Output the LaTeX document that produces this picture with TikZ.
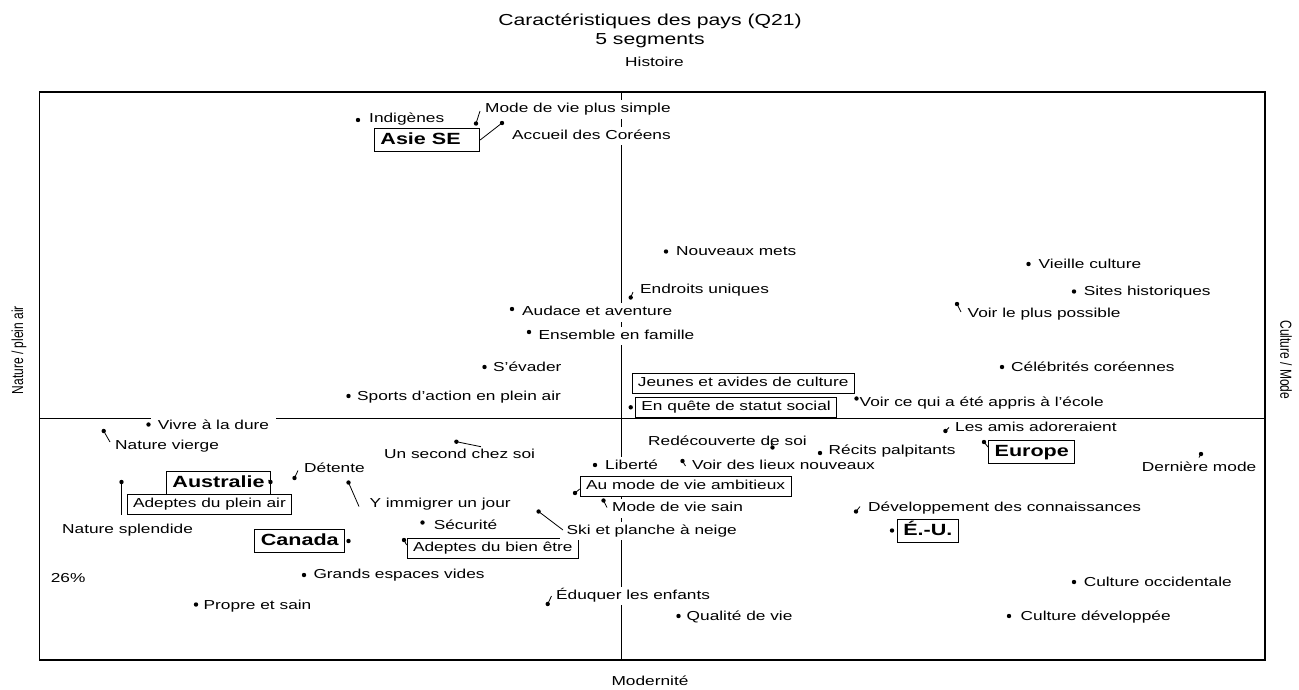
\documentclass[tikz,border=0pt]{standalone}
\usepackage{fontspec}
\setmainfont{Liberation Sans}[FakeStretch=1.33]
\newfontfamily\sidefont{Liberation Sans}
\begin{document}
\begin{tikzpicture}[x=1pt,y=-1pt,
  lbl/.style={anchor=mid west, xshift=-6.5pt, yshift=-2.3pt, fill=white, inner xsep=6.5pt, inner ysep=3pt,
    font=\fontsize{13}{15}\selectfont, text height=9.5pt, text depth=3pt},
  segbox/.style={draw, line width=0.9pt, fill=white, anchor=west, inner xsep=6pt, inner ysep=0pt,
    minimum height=20pt, font=\fontsize{13}{15}\selectfont, text height=9.5pt, text depth=3pt},
  ctybox/.style={draw, line width=0.9pt, fill=white, anchor=west, inner xsep=6pt, inner ysep=0pt,
    minimum height=23.5pt, font=\fontsize{16.2}{18}\selectfont\bfseries, text height=11.8pt, text depth=3.4pt},
  pdot/.style={circle, fill=black, inner sep=0pt, minimum size=4.4pt},
  lead/.style={line width=0.8pt},
  ttl/.style={anchor=mid, font=\fontsize{15.9}{18}\selectfont},
  axl/.style={anchor=mid, font=\fontsize{13}{15}\selectfont},
  side/.style={font=\sidefont\fontsize{12}{14}\selectfont},
]
\useasboundingbox (0,0) rectangle (1299,689);
\fill[white] (0,0) rectangle (1299,689);
% titles
\node[ttl] (t1) at (650,23) {Caractéristiques des pays (Q21)};
\node[ttl] (t2) at (650,41.5) {5 segments};
\node[axl] (top) at (654.5,64) {Histoire};
\node[axl] (bot) at (650,683) {Modernité};
\node[side, rotate=90] (left) at (19,350) {\scalebox{1}[1.33]{Nature / plein air}};
\node[side, rotate=-90] (right) at (1286,360) {\scalebox{1}[1.33]{Culture / Mode}};
% frame and axes
\coordinate (fa) at (39.4,92);
\coordinate (fb) at (1265,660);
\draw[line width=1.6pt] (fa) rectangle (fb);
\coordinate (vt) at (621.2,92); \coordinate (vb) at (621.2,660);
\coordinate (hl) at (39.4,418.3); \coordinate (hr) at (1265,418.3);
\draw[line width=1pt] (vt) -- (vb) (hl) -- (hr);
% country boxes
\node[ctybox] (asie) at (374,140) {Asie SE\hspace*{13pt}};
\node[ctybox] (aus) at (166,483) {Australie};
\node[ctybox] (can) at (254.4,541) {Canada};
\node[ctybox] (eur) at (988.2,452) {Europe};
\node[ctybox] (eu) at (896.9,531) {É.-U.};
% segment boxes
\node[segbox] (jeunes) at (631.5,383.3) {Jeunes et avides de culture};
\node[segbox] (quete) at (635,407) {En quête de statut social};
\node[segbox] (pleinair) at (126.6,504.5) {Adeptes du plein air};
\node[segbox] (ambit) at (579.7,486.4) {Au mode de vie ambitieux};
\node[segbox] (bienetre) at (406.6,548.6) {Adeptes du bien être};
% labels
\node[lbl] (indig) at (369,117.5) {Indigènes};
\node[lbl] (mvps) at (485,108) {Mode de vie plus simple};
\node[lbl] (accueil) at (512,134.5) {Accueil des Coréens};
\node[lbl] (nmets) at (676,251) {Nouveaux mets};
\node[lbl] (vcult) at (1038.5,264) {Vieille culture};
\node[lbl] (endr) at (640,288.5) {Endroits uniques};
\node[lbl] (sites) at (1083.6,291) {Sites historiques};
\node[lbl] (audace) at (522,310.7) {Audace et aventure};
\node[lbl] (voirplus) at (967.5,312.7) {Voir le plus possible};
\node[lbl] (ensemble) at (538.5,334.5) {Ensemble en famille};
\node[lbl] (evader) at (493,367) {S'évader};
\node[lbl] (celeb) at (1011,366.7) {Célébrités coréennes};
\node[lbl] (sports) at (357,396) {Sports d'action en plein air};
\node[lbl] (ecole) at (859.5,402) {Voir ce qui a été appris à l'école};
\node[lbl] (dure) at (157.7,425) {Vivre à la dure};
\node[lbl] (amis) at (955,427) {Les amis adoreraient};
\node[lbl] (vierge) at (115,445) {Nature vierge};
\node[lbl] (redec) at (648,440.5) {Redécouverte de soi};
\node[lbl] (lieux) at (692,465) {Voir des lieux nouveaux};
\node[lbl] (recits) at (828.5,449.3) {Récits palpitants};
\node[lbl] (derniere) at (1141.7,466.7) {Dernière mode};
\node[lbl] (second) at (384,454) {Un second chez soi};
\node[lbl] (liberte) at (605,465) {Liberté};
\node[lbl] (detente) at (304,467.3) {Détente};
\node[lbl] (splend) at (62,529) {Nature splendide};
\node[lbl] (immig) at (369.3,502.7) {Y immigrer un jour};
\node[lbl] (sain) at (612,507) {Mode de vie sain};
\node[lbl] (devel) at (868,506.7) {Développement des connaissances};
\node[lbl] (secur) at (433.6,525) {Sécurité};
\node[lbl] (ski) at (566.5,529.5) {Ski et planche à neige};
\node[lbl] (grands) at (313.3,573.5) {Grands espaces vides};
\node[lbl] (pct) at (50.6,578) {26\%};
\node[lbl] (occid) at (1083.6,581.7) {Culture occidentale};
\node[lbl] (eduq) at (556,594.5) {Éduquer les enfants};
\node[lbl] (propre) at (203.5,605) {Propre et sain};
\node[lbl] (qualite) at (686.5,615.5) {Qualité de vie};
\node[lbl] (develop) at (1020.5,615.5) {Culture développée};
% points and leaders
\node[pdot] (d-indig) at (358,120) {};
\node[pdot] (d-mvps) at (476,123.5) {}; \coordinate (e-mvps) at (480,111);
\draw[lead] (d-mvps.center) -- (e-mvps);
\node[pdot] (d-asie) at (502,123) {};
\draw[lead] (d-asie.center) -- (asie.east);
\node[pdot] (d-nmets) at (666,251.5) {};
\node[pdot] (d-vcult) at (1028.5,264) {};
\node[pdot] (d-endr) at (630.7,297.5) {}; \coordinate (e-endr) at (633,292);
\draw[lead] (d-endr.center) -- (e-endr);
\node[pdot] (d-sites) at (1074,291.5) {};
\node[pdot] (d-audace) at (512,309) {};
\node[pdot] (d-voirplus) at (957,304) {}; \coordinate (e-voirplus) at (961,312);
\draw[lead] (d-voirplus.center) -- (e-voirplus);
\node[pdot] (d-ensemble) at (529,332) {};
\node[pdot] (d-evader) at (484.5,367) {};
\node[pdot] (d-celeb) at (1002,367) {};
\node[pdot] (d-sports) at (348.5,396) {};
\node[pdot] (d-quete) at (630.7,407.3) {};
\node[pdot] (d-ecole) at (856.5,398.5) {};
\node[pdot] (d-dure) at (148.5,424.5) {};
\node[pdot] (d-amis) at (945.4,431) {}; \coordinate (e-amis) at (949,427.5);
\draw[lead] (d-amis.center) -- (e-amis);
\node[pdot] (d-vierge) at (103.7,431) {}; \coordinate (e-vierge) at (110,442);
\draw[lead] (d-vierge.center) -- (e-vierge);
\node[pdot] (d-redec) at (772.5,447.5) {}; \coordinate (e-redec) at (771,443);
\draw[lead] (d-redec.center) -- (e-redec);
\node[pdot] (d-recits) at (820,453) {};
\node[pdot] (d-eur) at (984,442) {}; \coordinate (e-eur) at (988,447);
\draw[lead] (d-eur.center) -- (e-eur);
\node[pdot] (d-derniere) at (1201,454) {}; \coordinate (e-derniere) at (1199,457.5);
\draw[lead] (d-derniere.center) -- (e-derniere);
\node[pdot] (d-second) at (456.4,441.7) {}; \coordinate (e-second) at (481,446.7);
\draw[lead] (d-second.center) -- (e-second);
\node[pdot] (d-liberte) at (595,465) {};
\node[pdot] (d-lieux) at (682.5,461) {}; \coordinate (e-lieux) at (685.5,466);
\draw[lead] (d-lieux.center) -- (e-lieux);
\node[pdot] (d-detente) at (294.5,478) {}; \coordinate (e-detente) at (298,470.5);
\draw[lead] (d-detente.center) -- (e-detente);
\node[pdot] (d-aus) at (270.5,482) {}; \coordinate (e-aus) at (268.5,480);
\draw[lead] (d-aus.center) -- (e-aus);
\node[pdot] (d-splend) at (121.5,482) {}; \coordinate (e-splend) at (121.5,515);
\draw[lead] (d-splend.center) -- (e-splend);
\node[pdot] (d-immig) at (348.5,482.5) {}; \coordinate (e-immig) at (359,506.5);
\draw[lead] (d-immig.center) -- (e-immig);
\node[pdot] (d-ambit) at (575,493) {}; \coordinate (e-ambit) at (579.7,489);
\draw[lead] (d-ambit.center) -- (e-ambit);
\node[pdot] (d-sain) at (603.5,500.5) {}; \coordinate (e-sain) at (607,507.5);
\draw[lead] (d-sain.center) -- (e-sain);
\node[pdot] (d-devel) at (856,511.5) {}; \coordinate (e-devel) at (860,506.5);
\draw[lead] (d-devel.center) -- (e-devel);
\node[pdot] (d-secur) at (422.5,522.5) {};
\node[pdot] (d-ski) at (538.6,511.5) {}; \coordinate (e-ski) at (563,530);
\draw[lead] (d-ski.center) -- (e-ski);
\node[pdot] (d-can) at (348.5,541) {};
\node[pdot] (d-eu) at (892,530.5) {};
\node[pdot] (d-bien) at (404,540) {}; \coordinate (e-bien) at (406.6,545);
\draw[lead] (d-bien.center) -- (e-bien);
\node[pdot] (d-grands) at (304,575) {};
\node[pdot] (d-occid) at (1074,582) {};
\node[pdot] (d-eduq) at (547.7,604) {}; \coordinate (e-eduq) at (551.5,596);
\draw[lead] (d-eduq.center) -- (e-eduq);
\node[pdot] (d-propre) at (196,604.5) {};
\node[pdot] (d-qualite) at (678.5,616) {};
\node[pdot] (d-develop) at (1009,616) {};
\end{tikzpicture}
\end{document}
